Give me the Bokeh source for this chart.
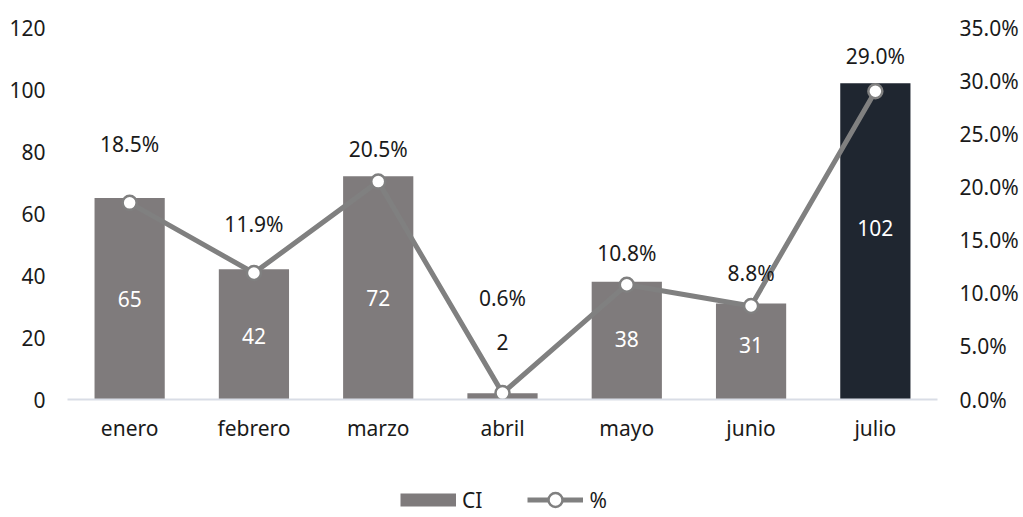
from bokeh.plotting import figure
from bokeh.layouts import column
from bokeh.models import (ColumnDataSource, Range1d, LinearAxis, FixedTicker,
                          NumeralTickFormatter, Legend, LegendItem, FactorRange)
from bokeh.core.properties import value
from bokeh.embed import file_html
from bokeh.resources import INLINE

# ---- data ----
months = ["enero", "febrero", "marzo", "abril", "mayo", "junio", "julio"]
ci_values = [65, 42, 72, 2, 38, 31, 102]
pct_values = [0.185, 0.119, 0.205, 0.006, 0.108, 0.088, 0.290]
left_ticks = [0, 20, 40, 60, 80, 100, 120]
right_ticks = [0.0, 0.05, 0.10, 0.15, 0.20, 0.25, 0.30, 0.35]
series_names = ["CI", "%"]

# ---- styles ----
FONT = "Noto Sans"
FS = "21px"
TEXT_COLOR = "#1a1a1a"
BAR_COLOR = "#7f7b7c"
bar_colors = [BAR_COLOR] * 6 + ["#1f2630"]
bar_label_colors = ["white", "white", "white", TEXT_COLOR, "white", "white", "white"]
bar_label_dy = [0, 2, 10, -54, -2, -6, -13]
pct_label_dy = [-59, -49, -33, -95, -32, -33, -35]
LINE_COLOR = "#808080"
W = 1023

src = ColumnDataSource(dict(
    month=months,
    ci=ci_values,
    half=[v / 2 for v in ci_values],
    ci_text=[str(v) for v in ci_values],
    bar_color=bar_colors,
    bar_label_color=bar_label_colors,
    bar_dy=bar_label_dy,
    pct=pct_values,
    pct_text=["%.1f%%" % (v * 100) for v in pct_values],
    pct_dy=pct_label_dy,
))

p = figure(width=W, height=449, x_range=FactorRange(*months, range_padding=0),
           y_range=Range1d(0, 120), output_backend="svg", toolbar_location=None,
           min_border_left=67, min_border_right=86, min_border_top=27,
           min_border_bottom=50)
p.outline_line_color = None
p.xgrid.visible = False
p.ygrid.visible = False

p.extra_y_ranges = {"pct": Range1d(0, 0.35)}

p.vbar(x="month", top="ci", width=0.565, source=src,
       fill_color="bar_color", line_color=None)
p.line(x="month", y="pct", source=src, y_range_name="pct",
       line_color=LINE_COLOR, line_width=5)
p.scatter(x="month", y="pct", source=src, y_range_name="pct", size=14,
          fill_color="white", line_color=LINE_COLOR, line_width=2.5)

p.text(x="month", y="half", text="ci_text", source=src, y_offset="bar_dy",
       text_align="center", text_baseline="middle", text_color="bar_label_color",
       text_font=value(FONT), text_font_size=FS)
p.text(x="month", y="pct", text="pct_text", source=src, y_range_name="pct",
       y_offset="pct_dy", text_align="center", text_baseline="middle",
       text_color=TEXT_COLOR, text_font=value(FONT), text_font_size=FS)

def style_axis(ax, standoff):
    ax.axis_line_color = None
    ax.major_tick_line_color = None
    ax.minor_tick_line_color = None
    ax.major_tick_out = 0
    ax.major_tick_in = 0
    ax.major_label_standoff = standoff
    ax.major_label_text_font = FONT
    ax.major_label_text_font_size = FS
    ax.major_label_text_color = TEXT_COLOR

xa = p.xaxis[0]
style_axis(xa, 14)
xa.axis_line_color = "#d9dde6"
xa.axis_line_width = 2

ya = p.yaxis[0]
ya.ticker = FixedTicker(ticks=left_ticks)
style_axis(ya, 22)

ra = LinearAxis(y_range_name="pct", ticker=FixedTicker(ticks=right_ticks),
                formatter=NumeralTickFormatter(format="0.0%"))
style_axis(ra, 22)
p.add_layout(ra, "right")

# ---- legend strip ----
lg = figure(width=W, height=68, x_range=Range1d(0, 1), y_range=Range1d(0, 1),
            output_backend="svg", toolbar_location=None,
            x_axis_location=None, y_axis_location=None,
            min_border_left=67, min_border_right=86, min_border_top=0,
            min_border_bottom=0)
lg.outline_line_color = None
lg.xgrid.visible = False
lg.ygrid.visible = False
# placeholder renderers (drawn outside the visible range) that carry the legend styles
hidden = ColumnDataSource(dict(x=[-10, -9], y=[-10, -10]))
lb = lg.line(x="x", y="y", source=hidden, line_color=BAR_COLOR, line_width=13)
ll = lg.line(x="x", y="y", source=hidden, line_color=LINE_COLOR, line_width=5)
ls = lg.scatter(x="x", y="y", source=hidden, size=14, fill_color="white",
                line_color=LINE_COLOR, line_width=2.5)
legend = Legend(items=[LegendItem(label=series_names[0], renderers=[lb]),
                       LegendItem(label=series_names[1], renderers=[ll, ls])],
                orientation="horizontal", location=(333, 0),
                border_line_color=None, background_fill_alpha=0,
                label_text_font=FONT, label_text_font_size=FS,
                label_text_color=TEXT_COLOR, glyph_width=56, glyph_height=35,
                label_standoff=6, spacing=45, padding=0, margin=0)
lg.add_layout(legend, "center")

open("out.html", "w").write(file_html(column(p, lg, spacing=0), INLINE))
